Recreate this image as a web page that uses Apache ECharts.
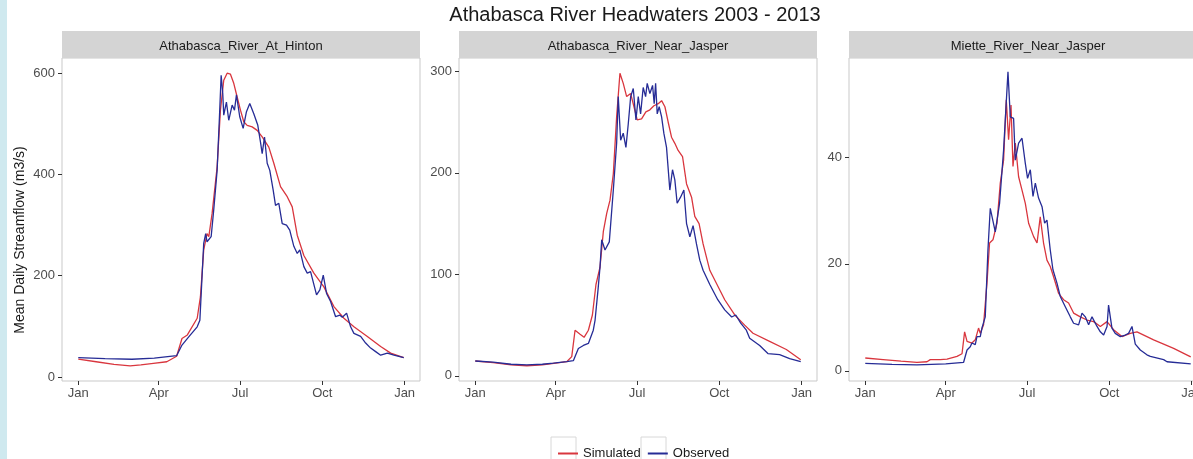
<!DOCTYPE html>
<html>
<head>
<meta charset="utf-8">
<script src="https://cdn.jsdelivr.net/npm/echarts@6/dist/echarts.min.js"></script>
<style>
  html, body { margin: 0; padding: 0; background: #ffffff; }
  #chart { width: 1193px; height: 459px; }
</style>
</head>
<body>
<div id="chart"></div>
<script>
// Day-of-year tick positions and their month labels
const monthTickDays = [0, 90, 181, 273, 365];
const monthTickLabels = ['Jan', 'Apr', 'Jul', 'Oct', 'Jan'];

// Station panel titles
const stationNames = ['Athabasca_River_At_Hinton', 'Athabasca_River_Near_Jasper', 'Miette_River_Near_Jasper'];

// Y tick values per station
const hintonTicks = [0, 200, 400, 600];
const jasperTicks = [0, 100, 200, 300];
const mietteTicks = [0, 20, 40];

// Mean daily streamflow (m3/s), [day of year, flow]
const hintonSimulated = [[0,35],[20,30],[40,25],[58,22],[70,24],[84,27],[99,30],[110,41],[116,76],[122,83],[133,116],[136.6,158],[140.3,251],[144,283],[146,277],[149.7,323],[155.3,415],[159,527],[162.7,586],[166.5,600],[170.2,598],[173.9,580],[177.7,553],[181.4,527],[185.1,504],[188.9,497],[194.5,494],[200.1,487],[205.7,474],[213.1,454],[218.7,422],[226.2,376],[233.7,356],[239.3,336],[244.9,280],[252.3,240],[263.5,205],[274.7,178],[285.9,139],[297.1,116],[308.3,99],[323.3,80],[338.2,60],[349.4,47],[364,38]];
const hintonObserved = [[0,38],[30,36],[60,35],[85,37],[100,40],[110,42],[116,63],[124,80],[133,99],[136,112],[140.3,264],[142.5,283],[144,267],[148.6,277],[151.5,330],[155.3,408],[157.9,514],[159.8,596],[161.6,560],[162.7,517],[165.7,543],[168.3,507],[172.1,537],[174.7,527],[176.9,557],[180.6,514],[184.4,491],[188.1,524],[191.8,540],[196.3,520],[200.8,497],[203.8,464],[205.7,441],[208.3,474],[211.3,422],[214.2,408],[218,369],[220.6,339],[224.3,343],[228.1,303],[232.9,300],[236.5,290],[241.1,258],[244.9,244],[247.8,251],[252.3,218],[256.1,205],[259.8,208],[266.5,162],[270.2,172],[274,201],[277.7,165],[282.2,149],[287.8,119],[292.6,122],[295.3,118],[300.1,126],[304.6,99],[308.3,86],[315.8,80],[321.4,67],[327,57],[332.6,50],[338.2,43],[345.7,47],[353.1,43],[364,38]];

const jasperSimulated = [[0,14.7],[20,13],[40,11],[57.7,10],[75,11],[90,12.5],[102.3,14],[107.9,19],[111.6,45],[117.2,41],[121.7,38],[126.5,45],[131,60],[135,90],[139.5,107],[143.2,142],[147,160],[150.7,173],[154.4,199],[158.1,255],[161.8,298],[165.5,288],[169.3,275],[173.8,278],[177.5,265],[181.1,252],[186,253],[190.8,260],[195.3,262],[199.8,266],[204.6,268],[208.4,271],[212.1,265],[215.7,250],[219.5,235],[223.2,229],[226.9,222],[231.8,216],[236.3,189],[241.9,176],[245.5,157],[250.3,150],[254.8,130],[262.3,104],[279,75],[290.2,60],[301.3,50],[310.6,42],[329.2,34],[347.9,26],[364,16]];
const jasperObserved = [[0,14.7],[20,13.5],[40,11.5],[57.7,10.8],[75,11.5],[87.4,12.5],[102.3,14],[109.7,15],[115.3,27],[120.9,30],[126.5,32],[132,45],[134,55],[137.3,85],[139.5,107],[141.4,134],[145.1,124],[149.9,132],[154.4,183],[158.1,229],[159.9,275],[162.6,232],[165.5,239],[168.5,225],[171.1,248],[173.8,275],[176.7,283],[179.7,252],[182.3,275],[184.9,258],[187.8,284],[190.5,275],[192.3,288],[195.3,278],[198.3,286],[200.1,268],[201.7,288],[203.5,258],[205.7,265],[208.4,255],[210.9,239],[213.9,225],[217.6,183],[220.6,203],[223.2,193],[225.8,170],[229.6,176],[233.3,183],[236.3,150],[240,137],[243.6,148],[247.4,130],[251.1,114],[254.8,104],[262.3,90],[271.2,75],[279,65],[286.8,58],[291.3,60],[296.9,52],[303.2,45],[306.9,37],[318.1,30],[327.3,22],[340.4,21],[351.6,17],[364,14]];

const mietteSimulated = [[0,2.4],[20,2.1],[40,1.8],[57.8,1.6],[69,1.7],[72.7,2.1],[83.9,2.1],[91.4,2.2],[102.6,2.7],[108.2,3.2],[110,3.3],[111.1,7.3],[113.8,5.5],[115.5,5.5],[119.3,5.2],[121.1,5.2],[123,5.8],[126.7,8],[128.6,7],[132.3,8.6],[136.1,16.4],[139,23.9],[142.8,24.5],[147.3,27.6],[151,35.1],[154.7,39.4],[157.7,50.7],[160.3,43.2],[163,49.7],[165.2,38.2],[167.8,42.6],[171.5,36.3],[175.3,33.8],[179,31.3],[182.7,27.6],[188.3,25.1],[192.1,23.9],[195.7,28.8],[199.4,23.9],[203.2,20.7],[206.9,19.5],[210.6,17.6],[216.2,14.5],[221.8,13.3],[227.4,12.7],[233,10.8],[240.5,10.1],[248,9.5],[255.4,9.2],[262.9,8.3],[270.4,9.2],[277.7,7.7],[287.1,6.4],[296.4,7],[303.9,7.3],[322.5,5.8],[344.9,4.2],[364,2.6]];
const mietteObserved = [[0,1.4],[30,1.2],[57.8,1.1],[90,1.3],[110,1.6],[113.8,3.9],[117.4,4.5],[119.3,5.2],[123,4.9],[124.9,6.4],[128.6,6.4],[130.5,8],[132.3,7.7],[134.2,10.1],[137.2,22.6],[139.8,30.4],[145.4,26],[150.2,31.3],[154.7,41.3],[159.6,55.9],[162.2,47.5],[165.9,47.2],[167.8,39.4],[171.5,42.6],[175.3,43.5],[179,38.8],[181.5,36],[184.6,37.6],[187.6,32.6],[190.2,35.1],[193.8,32.3],[197.7,30.7],[200.6,27.6],[203.2,28.2],[206.9,22.6],[209.9,18.9],[214.4,16.4],[218.1,13.9],[223.7,12],[229.3,10.1],[233,8.9],[238.6,8.6],[242.4,10.8],[246.1,10.1],[249.8,8.6],[253.6,10.1],[259.2,8.3],[262.9,7.3],[266.6,6.7],[270.4,8.3],[272.1,12.3],[275.9,8],[279.6,7],[285.2,6.4],[290.8,6.7],[294.5,7],[298.3,8.3],[302,5],[307.6,3.9],[315,3],[318.8,2.7],[333.7,2.1],[337.5,1.7],[364,1.3]];

// Layout of the three facets
const panelLeft = [62, 459, 849];
const panelWidth = 358;
const panelTop = 58;
const panelHeight = 323;
const stripTop = 31;
const stripHeight = 27;
const yLimits = [[-8, 630], [-5, 313], [-1.9, 58.5]];

const SIM_COLOR = '#d9363e';
const OBS_COLOR = '#262c96';
const FONT = '"Liberation Sans", Arial, Helvetica, sans-serif';

const panels = [
  { sim: hintonSimulated, obs: hintonObserved, ticks: hintonTicks },
  { sim: jasperSimulated, obs: jasperObserved, ticks: jasperTicks },
  { sim: mietteSimulated, obs: mietteObserved, ticks: mietteTicks }
];

const grid = [], xAxis = [], yAxis = [], series = [], graphic = [];

// light edge band on the left
graphic.push({ type: 'rect', shape: { x: 0, y: 0, width: 7, height: 459 }, style: { fill: '#cfe9ef' }, silent: true });

panels.forEach((p, i) => {
  grid.push({
    left: panelLeft[i], top: panelTop, width: panelWidth, height: panelHeight,
    outerBoundsMode: 'none', containLabel: false,
    show: true, backgroundColor: '#ffffff', borderColor: '#c9c9c9', borderWidth: 1
  });
  xAxis.push({
    type: 'value', gridIndex: i, min: -18.2, max: 382.2, position: 'bottom',
    axisLine: { show: false, onZero: false },
    splitLine: { show: false },
    axisTick: { show: true, length: 4, customValues: monthTickDays, lineStyle: { color: '#333333', width: 1 } },
    axisLabel: {
      customValues: monthTickDays, margin: 6, color: '#4d4d4d', fontSize: 13, fontFamily: FONT,
      formatter: (v) => monthTickLabels[monthTickDays.indexOf(v)]
    }
  });
  yAxis.push({
    type: 'value', gridIndex: i, min: yLimits[i][0], max: yLimits[i][1], position: 'left',
    axisLine: { show: false, onZero: false },
    splitLine: { show: false },
    axisTick: { show: true, length: 4, customValues: p.ticks, lineStyle: { color: '#333333', width: 1 } },
    axisLabel: { customValues: p.ticks, margin: 7, color: '#4d4d4d', fontSize: 13, fontFamily: FONT }
  });
  series.push({
    name: 'Simulated', type: 'line', xAxisIndex: i, yAxisIndex: i, data: p.sim,
    showSymbol: false, symbol: 'none', lineStyle: { color: SIM_COLOR, width: 1.3 }, itemStyle: { color: SIM_COLOR },
    animation: false, z: 2
  });
  series.push({
    name: 'Observed', type: 'line', xAxisIndex: i, yAxisIndex: i, data: p.obs,
    showSymbol: false, symbol: 'none', lineStyle: { color: OBS_COLOR, width: 1.3 }, itemStyle: { color: OBS_COLOR },
    animation: false, z: 3
  });
  // facet strip
  graphic.push({
    type: 'rect', silent: true,
    shape: { x: panelLeft[i], y: stripTop, width: panelWidth, height: stripHeight },
    style: { fill: '#d4d4d4' }
  });
  graphic.push({
    type: 'text', silent: true,
    x: panelLeft[i] + panelWidth / 2, y: stripTop + stripHeight / 2 + 1.5,
    style: { text: stationNames[i], fill: '#1a1a1a', font: '13px ' + FONT, textAlign: 'center', textVerticalAlign: 'middle' }
  });
});

// shared y-axis title
graphic.push({
  type: 'text', silent: true,
  x: 20, y: 240, rotation: Math.PI / 2,
  style: { text: 'Mean Daily Streamflow (m3/s)', fill: '#1a1a1a', font: '14px ' + FONT, textAlign: 'center', textVerticalAlign: 'middle' }
});

// legend key boxes
[551, 641].forEach((x) => {
  graphic.push({
    type: 'rect', silent: true, z: -1,
    shape: { x: x, y: 437, width: 25, height: 25 },
    style: { fill: '#ffffff', stroke: '#d8d8d8', lineWidth: 1 }
  });
});

const chart = echarts.init(document.getElementById('chart'), null, { renderer: 'canvas' });
chart.setOption({
  backgroundColor: '#ffffff',
  animation: false,
  title: {
    text: 'Athabasca River Headwaters 2003 - 2013',
    left: 635, top: 5, padding: 0, textAlign: 'center',
    textStyle: { fontSize: 20, fontWeight: 'normal', color: '#1a1a1a', fontFamily: FONT }
  },
  legend: {
    data: ['Simulated', 'Observed'],
    left: 553, top: 442, itemWidth: 20, itemHeight: 2, itemGap: 7, icon: 'rect',
    textStyle: { fontSize: 13, color: '#1a1a1a', fontFamily: FONT }
  },
  grid, xAxis, yAxis, series, graphic
});
</script>
</body>
</html>
